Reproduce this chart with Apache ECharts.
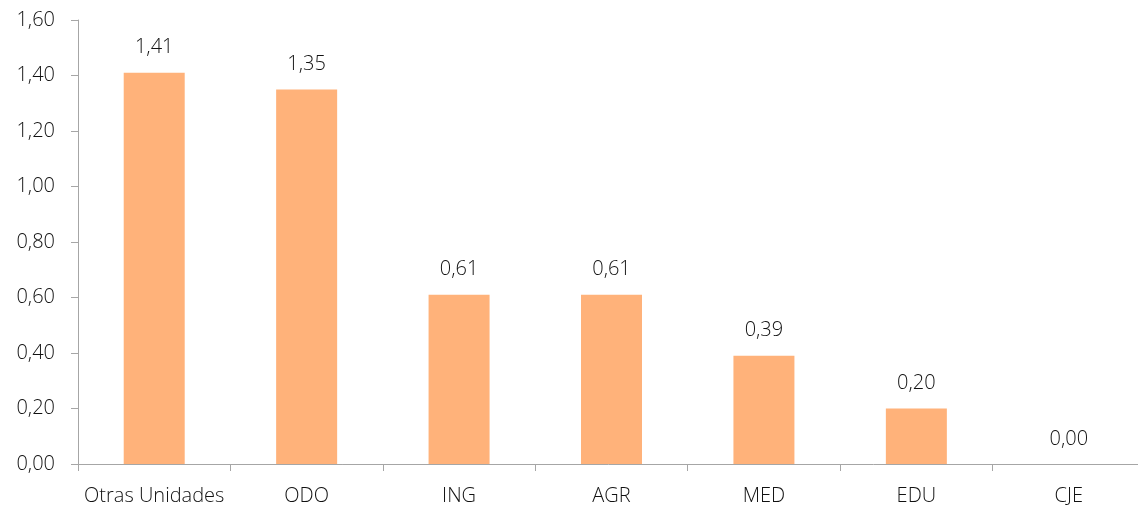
<!DOCTYPE html>
<html>
<head>
<meta charset="utf-8">
<script src="https://cdn.jsdelivr.net/npm/echarts@6/dist/echarts.min.js"></script>
<style>
  html, body { margin: 0; padding: 0; background: #fff; }
  #chart { width: 1138px; height: 508px; }
</style>
</head>
<body>
<div id="chart"></div>
<script>
"use strict";

var categories = ["Otras Unidades", "ODO", "ING", "AGR", "MED", "EDU", "CJE"];
var values = [1.41, 1.35, 0.61, 0.61, 0.39, 0.20, 0.00];

function fmt(v) {
    return v.toFixed(2).replace(".", ",");
}

var font = "Open Sans";
var textColor = "#111";

var option = {
    animation: false,
    grid: {
        left: 78,
        width: 1067,
        top: 20,
        bottom: 44,
        containLabel: false,
        outerBoundsMode: "none"
    },
    xAxis: {
        type: "category",
        data: categories,
        axisLine: { lineStyle: { color: "#a6a6a6", width: 1 } },
        axisTick: { show: true, interval: 0, length: 7, lineStyle: { color: "#a6a6a6" } },
        axisLabel: {
            interval: 0,
            color: textColor,
            fontFamily: font,
            fontWeight: 300,
            fontSize: 20,
            margin: 22
        }
    },
    yAxis: {
        type: "value",
        min: 0,
        max: 1.6,
        interval: 0.2,
        axisLine: { show: true, lineStyle: { color: "#a6a6a6", width: 1 } },
        axisTick: { show: true, length: 7, lineStyle: { color: "#a6a6a6" } },
        splitLine: { show: false },
        axisLabel: {
            color: textColor,
            fontFamily: font,
            fontWeight: 300,
            fontSize: 20,
            margin: 23,
            formatter: function (v) { return fmt(v); }
        }
    },
    series: [{
        type: "bar",
        data: values,
        barWidth: 61,
        itemStyle: { color: "#ffb27a" },
        label: {
            show: true,
            position: "top",
            distance: 15,
            color: textColor,
            fontFamily: font,
            fontWeight: 300,
            fontSize: 20,
            formatter: function (p) { return fmt(p.value); }
        }
    }]
};

echarts.init(document.getElementById("chart")).setOption(option);
</script>
</body>
</html>
